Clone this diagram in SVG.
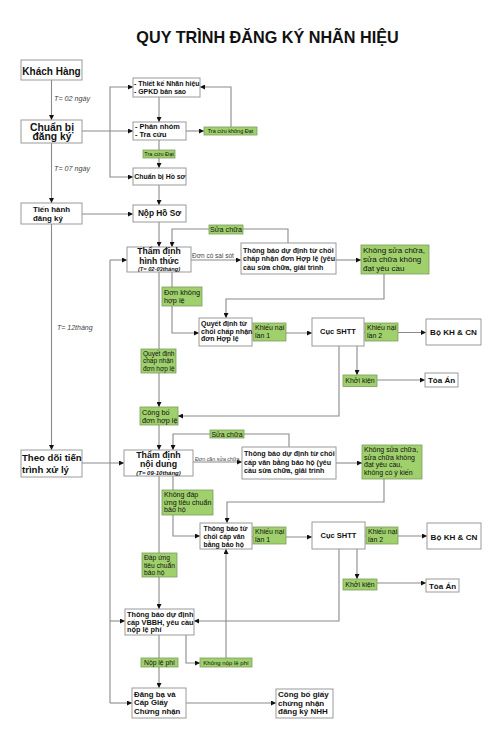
<svg xmlns="http://www.w3.org/2000/svg" width="500" height="749" viewBox="0 0 500 749">
<style>
text{font-family:"Liberation Sans",Arial,sans-serif;fill:#111}
.box{fill:#fff;stroke:#9a9a9a;stroke-width:1}
.g{fill:#9fd06c;stroke:#7d9c5f;stroke-width:0.8}
.c{fill:none;stroke:#8a8a8a;stroke-width:1.1}
.a{marker-end:url(#ah)}
.b{font-weight:bold}
.m{text-anchor:middle}
.lbl{fill:#444;font-style:italic}
</style>
<defs>
<marker id="ah" markerWidth="5" markerHeight="5" refX="5" refY="2.5" orient="auto" markerUnits="userSpaceOnUse">
<path d="M0,0 L5,2.5 L0,5 z" fill="#111"/>
</marker>
</defs>
<rect width="500" height="749" fill="#fff"/>
<text x="267.5" y="43" class="b m" font-size="16.2">QUY TRÌNH ĐĂNG KÝ NHÃN HIỆU</text>

<g id="connectors">
<path class="c a" d="M51.5,80 V120"/>
<path class="c a" d="M51.5,143 V203"/>
<path class="c a" d="M51.5,224 V450"/>
<path class="c a" d="M82,131 H133"/>
<path class="c a" d="M110,131 V87 H133"/>
<path class="c a" d="M110,131 V177 H133"/>
<path class="c a" d="M159,97 V122"/>
<path class="c a" d="M186,131 H204"/>
<path class="c a" d="M231,127 V87 H200"/>
<path class="c a" d="M159,140 V168"/>
<path class="c a" d="M159,185 V205"/>
<path class="c a" d="M82,214 H133"/>
<path class="c a" d="M159,222 V247"/>
<path class="c a" d="M288,243 V229 H172 V247"/>
<path class="c a" d="M191,260 H241"/>
<path class="c a" d="M336,260 H361"/>
<path class="c a" d="M384,274 V299 H226 V318"/>
<path class="c a" d="M172,272 V333 H199"/>
<path class="c a" d="M252,333 H312"/>
<path class="c a" d="M364,332.5 H426"/>
<path class="c a" d="M357,346 V375"/>
<path class="c a" d="M377,380 H425"/>
<path class="c a" d="M339,346 V416 H178"/>
<path class="c a" d="M159,272 V407"/>
<path class="c a" d="M159,425 V450"/>
<path class="c a" d="M289,447 V434 H173 V450"/>
<path class="c a" d="M82,463 H124"/>
<path class="c a" d="M193,462 H242"/>
<path class="c a" d="M336,463 H362"/>
<path class="c a" d="M384,479 V502 H227 V523"/>
<path class="c a" d="M173,476 V536 H200"/>
<path class="c a" d="M252,537 H312"/>
<path class="c a" d="M365,536 H427"/>
<path class="c a" d="M357,549 V579"/>
<path class="c a" d="M377,583 H426"/>
<path class="c a" d="M339,549 V621 H194"/>
<path class="c a" d="M159,476 V609"/>
<path class="c" d="M110,260 V703"/>
<path class="c a" d="M110,260 H127"/>
<path class="c a" d="M110,621 H125"/>
<path class="c a" d="M110,703 H132"/>
<path class="c a" d="M159,635 V688"/>
<path class="c a" d="M186,635 V663 H200"/>
<path class="c a" d="M226,658 V549"/>
<path class="c a" d="M186,703 H276"/>
</g>

<g id="labels">
<text x="54" y="101" class="lbl" font-size="7.2">T= 02 ngày</text>
<text x="54" y="170.7" class="lbl" font-size="7.2">T= 07 ngày</text>
<text x="57" y="330" class="lbl" font-size="7">T= 12tháng</text>
<text x="192" y="258" font-size="6.5" style="fill:#444">Đơn có sai sót</text>
<text x="195" y="460.5" font-size="5.3" style="fill:#444">Đơn cần sửa chữa</text>
</g>

<g id="n-khachhang"><rect class="box" x="21" y="60" width="61" height="20"/><text x="51.5" y="74.5" class="b m" font-size="10">Khách Hàng</text></g>
<g id="n-chuanbi"><rect class="box" x="21" y="120" width="61" height="23"/><text x="52" y="130.5" class="b m" font-size="10.3">Chuẩn bị</text><text x="52" y="140" class="b m" font-size="10.3">đăng ký</text></g>
<g id="n-tienhanh"><rect class="box" x="21" y="203" width="61" height="21"/><text x="33" y="211.7" class="b" font-size="7.9">Tiến hành</text><text x="33" y="220.7" class="b" font-size="7.9">đăng ký</text></g>
<g id="n-theodoi"><rect class="box" x="21" y="450" width="61" height="27"/><text x="22" y="461" class="b" font-size="9.6">Theo dõi tiến</text><text x="22" y="472.7" class="b" font-size="9.6">trình xử lý</text></g>

<g id="n-thietke"><rect class="box" x="133" y="78" width="67" height="19"/><text x="134" y="86" class="b" font-size="6.9">- Thiết kế Nhãn hiệu</text><text x="134" y="94.3" class="b" font-size="6.9">- GPKD bản sao</text></g>
<g id="n-phannhom"><rect class="box" x="133" y="122" width="53" height="18"/><text x="135" y="129.3" class="b" font-size="7.4">- Phân nhóm</text><text x="135" y="137.3" class="b" font-size="7.4">- Tra cứu</text></g>
<g id="g-tracuu-khongdat"><rect class="g" x="204" y="127" width="53" height="8"/><text x="230.5" y="133.2" class="m" font-size="5.5">Tra cứu không Đạt</text></g>
<g id="g-tracuu-dat"><rect class="g" x="143" y="150" width="32" height="8"/><text x="159" y="156.3" class="m" font-size="5.6">Tra cứu Đạt</text></g>
<g id="n-chuanbihoso"><rect class="box" x="133" y="168" width="53" height="17"/><text x="134.3" y="179.3" class="b" font-size="6.9">Chuẩn bị Hồ sơ</text></g>
<g id="n-nophoso"><rect class="box" x="133" y="205" width="53" height="17"/><text x="159.5" y="216" class="b m" font-size="8.3">Nộp Hồ Sơ</text></g>

<g id="n-thamdinh-hinhthuc"><rect class="box" x="127" y="247" width="64" height="25"/><text x="159" y="254.3" class="b m" font-size="8.6">Thẩm định</text><text x="159" y="264.2" class="b m" font-size="8.6">hình thức</text><text x="159" y="271.2" class="b m" font-size="5.7" font-style="italic">(T= 02-03tháng)</text></g>
<g id="g-suachua-1"><rect class="g" x="209" y="225" width="34" height="9"/><text x="226" y="232.3" class="m" font-size="7.2">Sửa chữa</text></g>
<g id="n-thongbao-1"><rect class="box" x="241" y="243" width="95" height="31"/><text x="243" y="252.7" class="b" font-size="7.1">Thông báo dự định từ chối</text><text x="243" y="261" class="b" font-size="7.1">chấp nhận đơn Hợp lệ (yêu</text><text x="243" y="270" class="b" font-size="7.1">cầu sửa chữa, giải trình</text></g>
<g id="g-khongsua-1"><rect class="g" x="361" y="245" width="68" height="29"/><text x="363" y="253.3" font-size="8">Không sửa chữa,</text><text x="363" y="262.3" font-size="8">sửa chữa không</text><text x="363" y="271" font-size="8">đạt yêu cầu</text></g>
<g id="g-donkhonghople"><rect class="g" x="162" y="287" width="40" height="19"/><text x="164" y="295" font-size="7.3">Đơn không</text><text x="164" y="302.5" font-size="7.3">hợp lệ</text></g>
<g id="n-quyetdinh-tuchoi"><rect class="box" x="199" y="318" width="53" height="28"/><text x="201" y="326" class="b" font-size="7">Quyết định từ</text><text x="201" y="333.5" class="b" font-size="7">chối chấp nhận</text><text x="201" y="341" class="b" font-size="7">đơn Hợp lệ</text></g>
<g id="g-khieunai1-a"><rect class="g" x="253" y="323" width="33" height="18"/><text x="255" y="330" font-size="7">Khiếu nại</text><text x="255" y="337.7" font-size="7">lần 1</text></g>
<g id="n-cucshtt-1"><rect class="box" x="312" y="318" width="52" height="28"/><text x="338" y="334.3" class="b m" font-size="7.5">Cục SHTT</text></g>
<g id="g-khieunai2-a"><rect class="g" x="365" y="323" width="33" height="18"/><text x="367" y="330" font-size="7">Khiếu nại</text><text x="367" y="337.7" font-size="7">lần 2</text></g>
<g id="n-bokhcn-1"><rect class="box" x="426" y="319" width="55" height="26"/><text x="453.5" y="335" class="b m" font-size="8.1">Bộ KH &amp; CN</text></g>
<g id="g-khoikien-1"><rect class="g" x="343" y="375" width="34" height="11.5"/><text x="360" y="383.3" class="m" font-size="7">Khởi kiện</text></g>
<g id="n-toaan-1"><rect class="box" x="425" y="373" width="33" height="14"/><text x="441.5" y="383.3" class="b m" font-size="8">Tòa Án</text></g>
<g id="g-qd-chapnhan"><rect class="g" x="141" y="349" width="35" height="24"/><text x="143" y="356" font-size="6.5">Quyết định</text><text x="143" y="363.3" font-size="6.5">chấp nhận</text><text x="143" y="370.7" font-size="6.5">đơn hợp lệ</text></g>
<g id="g-congbo-don"><rect class="g" x="140" y="407" width="38" height="18"/><text x="142" y="415" font-size="7.3">Công bố</text><text x="142" y="422.7" font-size="7.3">đơn hợp lệ</text></g>
<g id="g-suachua-2"><rect class="g" x="210" y="430" width="34" height="8"/><text x="227" y="436.6" class="m" font-size="7">Sửa chữa</text></g>

<g id="n-thamdinh-noidung"><rect class="box" x="124" y="450" width="69" height="26"/><text x="158.5" y="458" class="b m" font-size="8.8">Thẩm định</text><text x="158.5" y="466.5" class="b m" font-size="8.8">nội dung</text><text x="158.5" y="474.6" class="b m" font-size="6" font-style="italic">(T= 09-10tháng)</text></g>
<g id="n-thongbao-2"><rect class="box" x="242" y="447" width="94" height="32"/><text x="244" y="456" class="b" font-size="7.1">Thông báo dự định từ chối</text><text x="244" y="465" class="b" font-size="7.1">cấp văn bằng bảo hộ (yêu</text><text x="244" y="473.3" class="b" font-size="7.1">cầu sửa chữa, giải trình</text></g>
<g id="g-khongsua-2"><rect class="g" x="362" y="445" width="60" height="34"/><text x="364" y="452" font-size="7">Không sửa chữa,</text><text x="364" y="459.5" font-size="7">sửa chữa không</text><text x="364" y="467" font-size="7">đạt yêu cầu,</text><text x="364" y="474.5" font-size="7">không có ý kiến</text></g>
<g id="g-khongdapung"><rect class="g" x="162" y="490" width="51" height="25"/><text x="164" y="497" font-size="7.1">Không đáp</text><text x="164" y="504.5" font-size="7.1">ứng tiêu chuẩn</text><text x="164" y="512" font-size="7.1">bảo hộ</text></g>
<g id="n-thongbao-tuchoi"><rect class="box" x="200" y="523" width="52" height="26"/><text x="203.5" y="530.5" class="b" font-size="6.8">Thông báo từ</text><text x="203.5" y="538.5" class="b" font-size="6.8">chối cấp văn</text><text x="203.5" y="546.5" class="b" font-size="6.8">bằng bảo hộ</text></g>
<g id="g-khieunai1-b"><rect class="g" x="253" y="527" width="33" height="17"/><text x="255" y="533.5" font-size="7">Khiếu nại</text><text x="255" y="541.5" font-size="7">lần 1</text></g>
<g id="n-cucshtt-2"><rect class="box" x="312" y="522" width="53" height="27"/><text x="338.5" y="538" class="b m" font-size="7.5">Cục SHTT</text></g>
<g id="g-khieunai2-b"><rect class="g" x="366" y="527" width="32" height="17"/><text x="368" y="533.5" font-size="7">Khiếu nại</text><text x="368" y="541.5" font-size="7">lần 2</text></g>
<g id="n-bokhcn-2"><rect class="box" x="427" y="523" width="54" height="26"/><text x="454" y="539.5" class="b m" font-size="8.1">Bộ KH &amp; CN</text></g>
<g id="g-khoikien-2"><rect class="g" x="343" y="579" width="34" height="11"/><text x="360" y="587" class="m" font-size="7">Khởi kiện</text></g>
<g id="n-toaan-2"><rect class="box" x="426" y="579" width="33" height="13"/><text x="442.5" y="588.5" class="b m" font-size="8">Tòa Án</text></g>
<g id="g-dapung"><rect class="g" x="142" y="553" width="35" height="24"/><text x="144" y="560" font-size="6.7">Đáp ứng</text><text x="144" y="567.5" font-size="6.7">tiêu chuẩn</text><text x="144" y="575" font-size="6.7">bảo hộ</text></g>
<g id="n-thongbao-vbbh"><rect class="box" x="125" y="609" width="69" height="26"/><text x="127" y="616.5" class="b" font-size="7.3">Thông báo dự định</text><text x="127" y="624.5" class="b" font-size="7.3">cấp VBBH, yêu cầu</text><text x="127" y="632.3" class="b" font-size="7.3">nộp lệ phí</text></g>
<g id="g-noplephi"><rect class="g" x="141" y="658" width="37" height="9"/><text x="159.5" y="665.3" class="m" font-size="6.8">Nộp lệ phí</text></g>
<g id="g-khongnoplephi"><rect class="g" x="200" y="658" width="52" height="9"/><text x="226" y="665.3" class="m" font-size="6">Không nộp lệ phí</text></g>
<g id="n-dangba"><rect class="box" x="132" y="688" width="54" height="30"/><text x="134" y="696.5" class="b" font-size="7.8">Đăng bạ và</text><text x="134" y="705.3" class="b" font-size="7.8">Cấp Giấy</text><text x="134" y="714" class="b" font-size="7.8">Chứng nhận</text></g>
<g id="n-congbo-giay"><rect class="box" x="276" y="689" width="57" height="29"/><text x="278" y="697" class="b" font-size="8">Công bố giấy</text><text x="278" y="705.5" class="b" font-size="8">chứng nhận</text><text x="278" y="714" class="b" font-size="8">đăng ký NHH</text></g>
</svg>
